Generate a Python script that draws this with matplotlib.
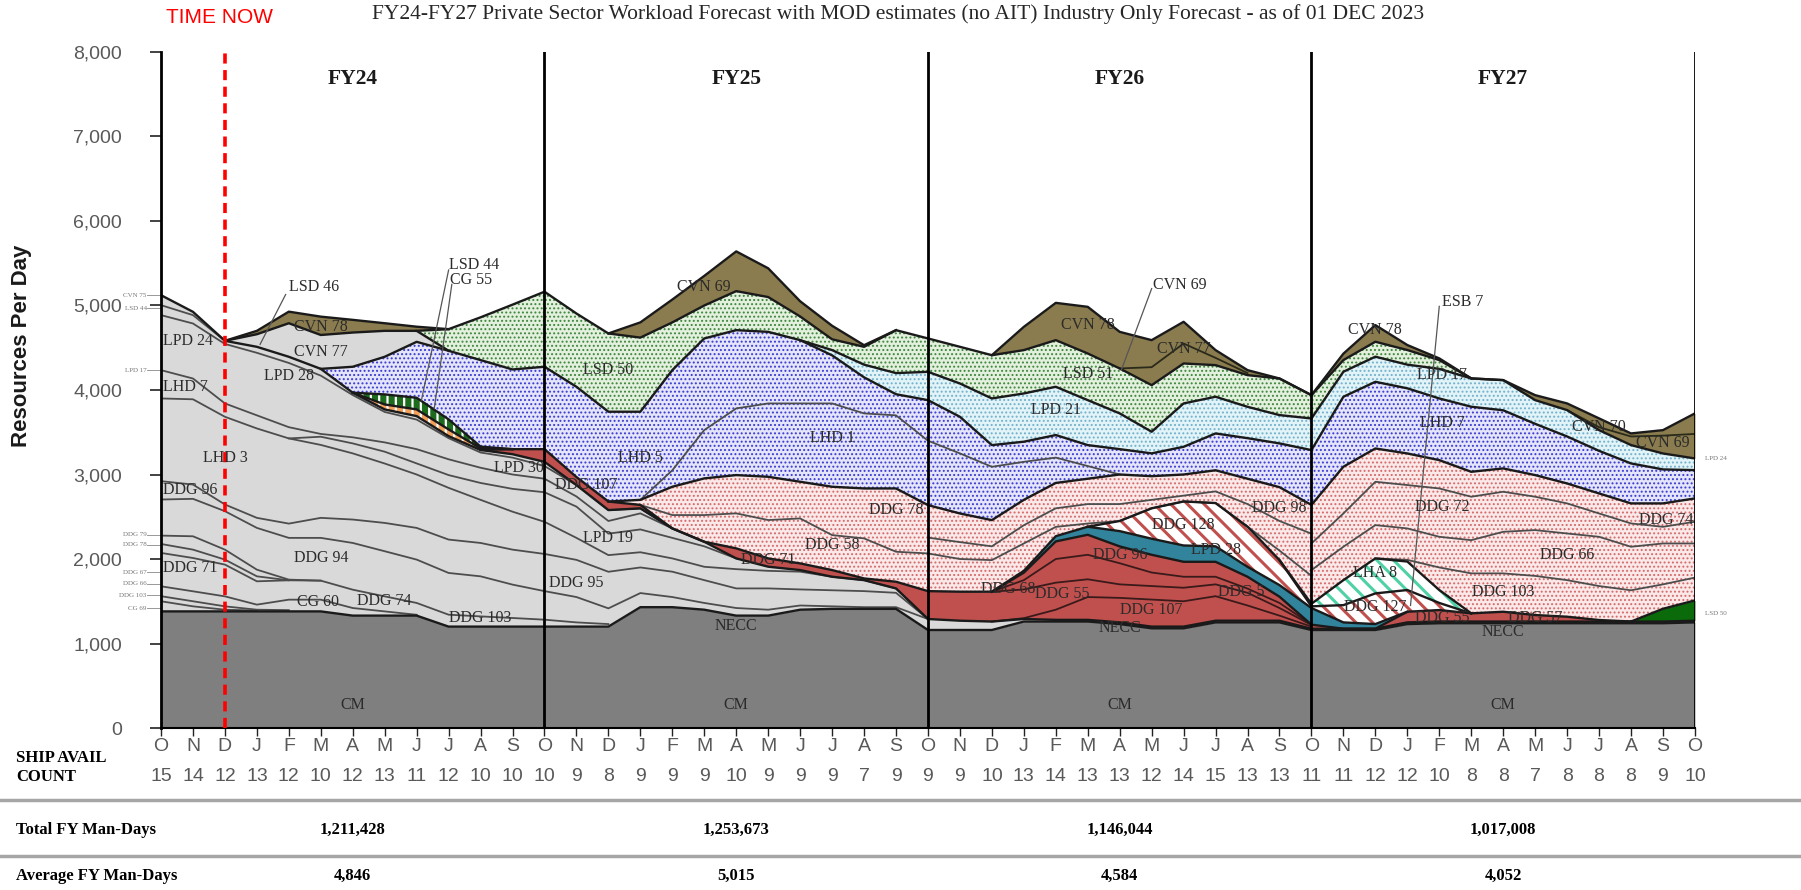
import numpy as np
import matplotlib.pyplot as plt
from matplotlib.lines import Line2D
import matplotlib.transforms as mtransforms

plt.rcParams['hatch.linewidth'] = 0.9

months = ['O', 'N', 'D', 'J', 'F', 'M', 'A', 'M', 'J', 'J', 'A', 'S'] * 4 + ['O']
ship_counts = [15, 14, 12, 13, 12, 10, 12, 13, 11, 12, 10, 10,
               10, 9, 8, 9, 9, 9, 10, 9, 9, 9, 7, 9,
               9, 9, 10, 13, 14, 13, 13, 12, 14, 15, 13, 13,
               11, 11, 12, 12, 10, 8, 8, 7, 8, 8, 8, 9,
               10]
fiscal_years = ['FY24', 'FY25', 'FY26', 'FY27']
total_man_days = ['1,211,428', '1,253,673', '1,146,044', '1,017,008']
average_man_days = ['4,846', '5,015', '4,584', '4,052']

# cumulative top of each band (resources per day)
# segments are (first month index, values); outside them a band sits flat on the one below
cm_top = [1380, 1380, 1380, 1380, 1380, 1380, 1330, 1330, 1330, 1200, 1200, 1200, 1200,
          1200, 1200, 1430, 1430, 1400, 1330, 1330, 1400, 1410, 1410, 1410, 1160,
          1160, 1160, 1260, 1260, 1260, 1230, 1180, 1180, 1250, 1250, 1250, 1160,
          1160, 1160, 1230, 1240, 1240, 1240, 1240, 1240, 1240, 1240, 1240, 1250]
gray_top = [5122, 4925, 4582, 4511, 4393, 4250, 3968, 3770, 3691, 3454, 3290, 3240, 3150,
            2875, 2579, 2599, 2362, 2204, 2007, 1909, 1869, 1790, 1750, 1652, 1290,
            1270, 1260, 1290, 1280, 1280, 1250, 1200, 1200, 1270, 1270, 1270, 1175,
            1175, 1175, 1250, 1260, 1260, 1260, 1260, 1260, 1260, 1260, 1260, 1270]
red_top = [(10, [3290, 3300, 3300, 2970, 2680, 2640, 2362]),
           (17, [2204, 2126, 2007, 1948, 1869, 1770, 1731, 1620,
                 1613, 1613, 1838, 2208, 2287, 2149, 2050, 1967, 1967, 1790, 1554, 1223]),
           (39, [1376, 1396, 1357, 1376, 1337, 1317, 1278, 1260])]
lsd50_top = [(46, [1260, 1411, 1510])]
teal_top = [(27, [1860, 2270, 2382, 2330, 2240, 2160, 2150, 1908, 1691, 1420, 1250, 1230, 1376])]
red_stripe_top = [(30, [2450, 2600, 2681, 2662, 2382, 1987]),
                  (36, [1440, 1454, 1593, 1633, 1480, 1357])]
mint_stripe_top = [(36, [1470, 1750, 2007, 1970, 1633, 1357])]
orange_stripe_top = [(6, [3968, 3829, 3770, 3533, 3310])]
green_stripe_top = [(6, [3968, 3948, 3908, 3652, 3330])]
pink_top = [(13, [2970, 2680, 2700, 2855, 2954, 2993, 2973, 2914, 2855, 2835, 2835, 2638,
                  2539, 2460, 2700, 2900, 2950, 3000, 2980, 3000, 3050, 2950, 2850, 2640,
                  3092, 3308, 3249, 3170, 3032, 3072, 2993, 2894, 2776, 2658, 2658, 2717])]
blue_top = [(5, [4250, 4275, 4393, 4570, 4464, 4354, 4243, 4275,
                 4038, 3743, 3743, 4235, 4610, 4708, 4688, 4590, 4410, 4150, 3950, 3880,
                 3683, 3348, 3388, 3467, 3348, 3300, 3250, 3328, 3486, 3430, 3368, 3289,
                 3920, 4097, 4020, 3900, 3802, 3760, 3600, 3450, 3280, 3131, 3060, 3052])]
cyan_top = [(21, [4472, 4300, 4200, 4215,
                  4077, 3900, 3959, 4038, 3880, 3723, 3506, 3841, 3920, 3801, 3703, 3663,
                  4216, 4394, 4300, 4250, 4137, 4117, 3880, 3762, 3525, 3348, 3249, 3190])]
cvn77_top = [(2, [4582, 4660, 4790, 4651, 4680, 4700, 4700])]
green_top = [(8, [4700, 4720, 4860, 5010, 5163,
                  4905, 4669, 4620, 4800, 5000, 5170, 5100, 4870, 4600, 4511, 4708, 4610,
                  4511, 4412, 4472, 4590, 4432, 4255, 4057, 4314, 4294, 4176, 4136, 3939,
                  4354, 4571, 4473, 4354, 4137, 4117, 3880, 3762, 3525, 3348, 3249, 3190])]
olive_top = [(3, [4700, 4927, 4868, 4830, 4790, 4749, 4720, 4860, 5010, 5163,
                  4905, 4669, 4800, 5070, 5350, 5640, 5440, 5050, 4760, 4530, 4700, 4610,
                  4511, 4412, 4747, 5031, 4984, 4688, 4590, 4807, 4472, 4235, 4136, 3939,
                  4430, 4768, 4532, 4374, 4137, 4117, 3939, 3841, 3664, 3486, 3525, 3723])]

# ship boundaries inside a band
gray_lines = [(0, [5004, 4886, 4582]),
              (0, [4886, 4787, 4545]),
              (2, [4545, 4440, 4320, 4170, 3940, 3740, 3650, 3430, 3260, 3200, 3100, 2900, 2620, 2600, 2362]),
              (0, [4235, 4136, 3841, 3700, 3560, 3480, 3440, 3380, 3300, 3180, 3080, 3000, 2950, 2740, 2450, 2540, 2362]),
              (0, [3900, 3890, 3683, 3545, 3427, 3447, 3368, 3270, 3131, 2993, 2900, 2830, 2790, 2620, 2300,
                   2350, 2250, 2150, 2007]),
              (4, [3427, 3350, 3250, 3130, 3000, 2842, 2700, 2560, 2440, 2250, 2046, 2080, 2007, 1908, 1880,
                   1860, 1850, 1830, 1800, 1760, 1290]),
              (0, [2921, 2881, 2645, 2487, 2419, 2487, 2467, 2427, 2368, 2230, 2190, 2111, 2060, 1990, 1849,
                   1900, 1850, 1750, 1652, 1652, 1640, 1630, 1620, 1600, 1290]),
              (0, [2704, 2712, 2566, 2368, 2250, 2250, 2190, 2092, 1993, 1835, 1795, 1697, 1620, 1550, 1416,
                   1597, 1550, 1480, 1420, 1400, 1450, 1440, 1430, 1430, 1290]),
              (0, [2277, 2269, 2111, 1874, 1756, 1744, 1637, 1558, 1480, 1341, 1321, 1302, 1282, 1250, 1230]),
              (0, [2178, 2111, 1993, 1795, 1748, 1744]),
              (0, [2072, 2012, 1934, 1736, 1748]),
              (0, [1677, 1618, 1558, 1460, 1519, 1519, 1420, 1380, 1340]),
              (0, [1560, 1500, 1440, 1400, 1395]),
              (0, [1500, 1440, 1400, 1390])]
red_lines = [(26, [1260, 1300, 1400, 1550, 1540, 1520, 1500, 1560, 1450, 1330, 1200]),
             (26, [1613, 1640, 1720, 1760, 1700, 1680, 1660, 1700, 1600, 1420, 1220]),
             (26, [1613, 1750, 2000, 2050, 1950, 1840, 1790, 1790, 1650, 1480, 1223])]
pink_lines = [(15, [2640, 2520, 2520, 2540, 2461, 2480, 2283, 2244, 2086, 2066, 2000, 1987,
                    2184, 2380, 2420, 2450, 2600, 2681, 2662, 2382, 2100, 1800]),
              (24, [2253, 2200, 2150, 2400, 2600, 2650, 2650, 2700, 2750, 2800, 2650, 2450, 2300]),
              (36, [2184, 2539, 2914, 2875, 2835, 2737, 2796, 2737, 2658, 2539, 2421, 2381, 2441]),
              (36, [1869, 2145, 2401, 2362, 2263, 2223, 2322, 2342, 2302, 2263, 2145, 2184, 2184]),
              (38, [2007, 1990, 1900, 1830, 1830, 1800, 1750, 1680, 1630, 1700, 1780])]
blue_lines = [(15, [2700, 3050, 3526, 3782, 3841, 3841, 3841, 3723, 3700, 3400, 3250, 3091, 3150, 3200, 3100, 3000])]
olive_lines = [(30, [4255, 4270, 4550, 4380, 4200]),
               (44, [3762, 3560, 3450, 3460, 3480])]

x = np.arange(len(months))
fig = plt.figure(figsize=(18.01, 8.90), dpi=100)
ax = fig.add_axes([0.0894, 0.1820, 0.8517, 0.7596])

layers = [
    ('cm', [(0, cm_top)], dict(face='#7f7f7f')),
    ('gray', [(0, gray_top)], dict(face='#d9d9d9')),
    ('red', red_top, dict(face='#c0504d')),
    ('lsd50', lsd50_top, dict(face='#0b6b0b')),
    ('teal', teal_top, dict(face='#31849b')),
    ('redstripe', red_stripe_top, dict(face='white', hatch='\\\\', hcolor='#c0504d', hlw=2.2)),
    ('mint', mint_stripe_top, dict(face='white', hatch='\\\\', hcolor='#4fd1a5', hlw=2.2)),
    ('orange', orange_stripe_top, dict(face='#f4a05a', hatch='||', hcolor='white', hlw=1.6)),
    ('gstripe', green_stripe_top, dict(face='#1d6b1d', hatch='||', hcolor='white', hlw=1.6)),
    ('pink', pink_top, dict(face='#fbe9e9', hatch='....', hcolor='#d46a6a')),
    ('blue', blue_top, dict(face='#e4e4fb', hatch='....', hcolor='#3a3ad0')),
    ('cyan', cyan_top, dict(face='#e2f4f8', hatch='....', hcolor='#72b0cc')),
    ('cvn77', cvn77_top, dict(face='#d9d9d9')),
    ('green', green_top, dict(face='#e4f0de', hatch='....', hcolor='#3c863c')),
    ('olive', olive_top, dict(face='#8a7c4e')),
]

prev = np.zeros(len(x))
tops = {}
for name, segs, st in layers:
    top = prev.copy()
    for start, vals in segs:
        v = np.asarray(vals, float)
        sl = slice(start, start + len(v))
        top[sl] = np.maximum(v, prev[sl])
    hatch = st.get('hatch')
    coll = ax.fill_between(x, prev, top, facecolor=st['face'],
                           edgecolor=st.get('hcolor', st['face']), linewidth=0,
                           hatch=hatch, zorder=1)
    if hatch and hasattr(coll, 'set_hatch_linewidth'):
        coll.set_hatch_linewidth(st.get('hlw', 0.9))
    vis = (top - prev) > 1
    seg = vis[:-1] | vis[1:]
    pts = np.zeros(len(x), bool)
    pts[:-1] |= seg
    pts[1:] |= seg
    ax.plot(x, np.where(pts, top, np.nan), color='#1a1a1a', lw=1.7, zorder=4)
    tops[name] = top
    prev = top


def draw_lines(group, lo, hi, color='#4d4d4d', lw=1.3):
    for start, vals in group:
        v = np.asarray(vals, float)
        sl = slice(start, start + len(v))
        ax.plot(x[sl], np.clip(v, lo[sl], hi[sl]), color=color, lw=lw, zorder=3)


draw_lines(gray_lines, tops['cm'], tops['gray'])
draw_lines(red_lines, tops['gray'], tops['red'], color='#3a1a1a')
draw_lines(pink_lines, tops['gstripe'], tops['pink'])
draw_lines(blue_lines, tops['pink'], tops['blue'])
draw_lines(olive_lines, tops['green'], tops['olive'], color='#2a2a1a')

# leader lines
leaders = [((3.9, 5130), (3.1, 4540)), ((9.0, 5420), (8.15, 3880)), ((9.1, 5250), (8.55, 3780)),
           ((31.0, 5200), (30.05, 4235)), ((40.0, 4990), (39.1, 1450))]
for (x1, y1), (x2, y2) in leaders:
    ax.plot([x1, x2], [y1, y2], color='#555555', lw=0.9, zorder=5)

for fy in (12, 24, 36, 48):
    ax.axvline(fy, color='black', lw=2, zorder=6)
ax.axvline(2, color='#ff0000', lw=2.6, ls=(0, (2.8, 1.8)), zorder=7)

serif = 'Liberation Serif'
labels = [
    ('LSD 46', 4.0, 5220, 'left'), ('LSD 44', 9.0, 5480, 'left'), ('CG 55', 9.05, 5300, 'left'),
    ('CVN 78', 5.0, 4750, 'center'), ('CVN 77', 5.0, 4450, 'center'), ('LPD 24', 0.05, 4580, 'left'),
    ('LPD 28', 4.0, 4160, 'center'), ('LHD 7', 0.05, 4030, 'left'), ('LHD 3', 2.0, 3190, 'center'),
    ('DDG 96', 0.05, 2815, 'left'), ('DDG 71', 0.05, 1894, 'left'), ('DDG 94', 5.0, 2010, 'center'),
    ('CG 60', 4.9, 1487, 'center'), ('DDG 74', 7.0, 1500, 'center'), ('DDG 103', 10.0, 1302, 'center'),
    ('LPD 30', 11.2, 3080, 'center'), ('DDG 107', 13.3, 2870, 'center'),
    ('LSD 50', 14.0, 4234, 'center'), ('CVN 69', 17.0, 5217, 'center'), ('LHD 5', 15.0, 3194, 'center'),
    ('LHD 1', 21.0, 3430, 'center'), ('DDG 78', 23.0, 2580, 'center'), ('DDG 58', 21.0, 2165, 'center'),
    ('DDG 71', 19.0, 1987, 'center'), ('LPD 19', 14.0, 2248, 'center'), ('DDG 95', 13.0, 1715, 'center'),
    ('NECC', 18.0, 1207, 'center'),
    ('CVN 69', 31.05, 5240, 'left'), ('CVN 78', 29.0, 4767, 'center'), ('CVN 77', 32.0, 4491, 'center'),
    ('LSD 51', 29.0, 4195, 'center'), ('LPD 21', 28.0, 3762, 'center'), ('DDG 98', 35.0, 2601, 'center'),
    ('DDG 128', 32.0, 2401, 'center'), ('LPD 28', 33.0, 2106, 'center'), ('DDG 96', 30.0, 2047, 'center'),
    ('DDG 68', 26.5, 1640, 'center'), ('DDG 55', 28.2, 1585, 'center'), ('DDG 107', 31.0, 1396, 'center'),
    ('DDG 5', 33.8, 1613, 'center'), ('NECC', 30.0, 1179, 'center'),
    ('ESB 7', 40.07, 5043, 'left'), ('CVN 78', 38.0, 4709, 'center'), ('LPD 17', 40.1, 4176, 'center'),
    ('LHD 7', 40.1, 3604, 'center'), ('DDG 72', 40.1, 2618, 'center'), ('DDG 66', 44.0, 2046, 'center'),
    ('DDG 74', 47.1, 2460, 'center'), ('DDG 103', 42.0, 1613, 'center'), ('LHA 8', 38.0, 1830, 'center'),
    ('DDG 127', 38.0, 1435, 'center'), ('DDG 55', 40.1, 1297, 'center'), ('DDG 57', 43.0, 1297, 'center'),
    ('NECC', 42.0, 1139, 'center'), ('CVN 70', 45.0, 3565, 'center'), ('CVN 69', 47.0, 3368, 'center'),
]
for txt, tx, ty, ha in labels:
    ax.text(tx, ty, txt, ha=ha, va='center', fontsize=11.5, family=serif, color='#2b2b2b', zorder=8)

for fx in (6, 18, 30, 42):
    ax.text(fx, 275, 'CM', ha='center', va='center', fontsize=11.5, family=serif, color='#2b2b2b', zorder=8)

side_labels = [('CVN 75', 5122), ('LSD 44', 4965), ('LPD 17', 4235), ('DDG 79', 2289), ('DDG 78', 2170),
               ('DDG 67', 1843), ('DDG 66', 1708), ('DDG 103', 1570), ('CG 69', 1420)]
for txt, ty in side_labels:
    ax.text(-0.45, ty, txt, ha='right', va='center', fontsize=5, family=serif, color='#777777')
    ax.plot([-0.45, -0.02], [ty, ty], color='#888888', lw=0.6, clip_on=False)
for txt, ty in [('LPD 24', 3190), ('LSD 50', 1360)]:
    ax.text(48.3, ty, txt, ha='left', va='center', fontsize=5, family=serif, color='#777777')

for i, fy in enumerate(fiscal_years):
    ax.text(6 + 12 * i, 7680, fy, ha='center', va='center', fontsize=15.5, family=serif,
            fontweight='bold', color='#1a1a1a')

ax.set_xlim(0, 48)
ax.set_ylim(0, 8000)
ax.set_yticks(range(0, 8001, 1000))
ax.set_yticklabels([f'{v:,}' for v in range(0, 8001, 1000)], fontsize=14, color='#595959',
                   family='Liberation Sans')
ax.tick_params(axis='y', length=8, width=1.2, color='#222222', pad=20)
ax.set_xticks(x)
ax.set_xticklabels([])
ax.tick_params(axis='x', length=6, width=1.0, color='#222222')
for s in ('top', 'right'):
    ax.spines[s].set_visible(False)
ax.spines['left'].set_linewidth(2)
ax.spines['bottom'].set_linewidth(1.5)
ax.spines['left'].set_zorder(6)

blend = mtransforms.blended_transform_factory(ax.transData, fig.transFigure)
narrow = ['Liberation Sans Narrow', 'Liberation Sans']
for i, m in enumerate(months):
    ax.text(i, 0.1607, m, transform=blend, ha='center', va='center', fontsize=14, family=narrow,
            color='#595959')
    ax.text(i, 0.1270, str(ship_counts[i]), transform=blend, ha='center', va='center', fontsize=14,
            family=narrow, color='#595959')

fig.text(0.009, 0.1483, 'SHIP AVAIL', ha='left', va='center', fontsize=12, family=serif, fontweight='bold')
fig.text(0.009, 0.1270, 'COUNT', ha='left', va='center', fontsize=12, family=serif, fontweight='bold')

for yy in (0.1011, 0.0382):
    fig.add_artist(Line2D([0, 1], [yy, yy], transform=fig.transFigure, color='#a6a6a6', lw=2.5))

fig.text(0.009, 0.0674, 'Total FY Man-Days', ha='left', va='center', fontsize=12, family=serif,
         fontweight='bold')
fig.text(0.009, 0.0157, 'Average FY Man-Days', ha='left', va='center', fontsize=12, family=serif,
         fontweight='bold')
for i in range(4):
    ax.text(6 + 12 * i, 0.0674, total_man_days[i], transform=blend, ha='center', va='center',
            fontsize=12, family=serif, fontweight='bold')
    ax.text(6 + 12 * i, 0.0157, average_man_days[i], transform=blend, ha='center', va='center',
            fontsize=12, family=serif, fontweight='bold')

fig.text(0.4986, 0.984, 'FY24-FY27 Private Sector Workload Forecast with MOD estimates (no AIT) '
         'Industry Only Forecast - as of 01 DEC 2023', ha='center', va='center', fontsize=15.5,
         family=serif, color='#262626')
fig.text(0.1216, 0.9798, 'TIME NOW', ha='center', va='center', fontsize=15,
         family='Liberation Sans', color='#ff0000')
fig.text(0.0117, 0.612, 'Resources Per Day', rotation=90, ha='center', va='center', fontsize=16,
         family='Liberation Sans', fontweight='bold', color='#1a1a1a')

fig.savefig('out.png', dpi=100)
